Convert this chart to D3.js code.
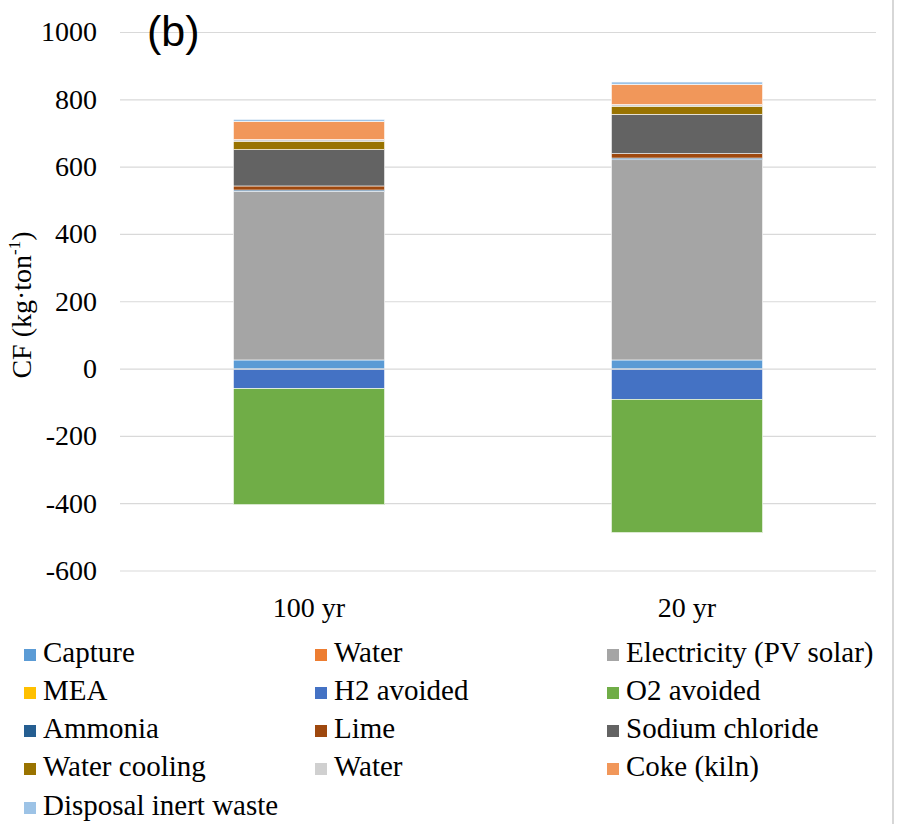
<!DOCTYPE html>
<html>
<head>
<meta charset="utf-8">
<script src="https://cdn.jsdelivr.net/npm/d3@7"></script>
<style>
  html, body { margin: 0; padding: 0; background: #fff; }
  svg { display: block; }
  .serif { font-family: "Liberation Serif", "Times New Roman", serif; }
</style>
</head>
<body>
<svg id="chart" width="898" height="824"></svg>
<script>
// Categories (time horizons) and contributions to the carbon footprint, kg per ton
const categories = ["100 yr", "20 yr"];

const seriesKeys = [
  "capture", "water", "electricity", "mea", "h2", "o2",
  "ammonia", "lime", "nacl", "cooling", "water2", "coke", "disposal"
];
const seriesLabels = [
  "Capture", "Water", "Electricity (PV solar)", "MEA", "H2 avoided", "O2 avoided",
  "Ammonia", "Lime", "Sodium chloride", "Water cooling", "Water", "Coke (kiln)",
  "Disposal inert waste"
];
const seriesColors = [
  "#5b9bd5", "#ed7d31", "#a5a5a5", "#ffc000", "#4472c4", "#70ad47",
  "#255e91", "#9e480e", "#636363", "#997300", "#d0d0d0", "#f1975a", "#9dc3e6"
];

// Values per series, one entry per category
const capture     = [27, 27];
const water       = [0, 0];
const electricity = [501, 595];
const mea         = [0, 0];
const h2Avoided   = [-58, -90];
const o2Avoided   = [-345, -396];
const ammonia     = [4, 5];
const lime        = [12, 13];
const nacl        = [108, 117];
const cooling     = [25, 24];
const water2      = [5, 5];
const coke        = [54, 60];
const disposal    = [6, 7];

const yTicks = [1000, 800, 600, 400, 200, 0, -200, -400, -600];

const seriesValues = [capture, water, electricity, mea, h2Avoided, o2Avoided,
  ammonia, lime, nacl, cooling, water2, coke, disposal];

const rows = categories.map((c, i) => {
  const r = { category: c };
  seriesKeys.forEach((k, j) => { r[k] = seriesValues[j][i]; });
  return r;
});

const svg = d3.select("#chart");

const plot = { left: 120, right: 876, top: 32.5, bottom: 571 };

const x = d3.scaleBand().domain(categories).range([plot.left, plot.right]).padding(0);
const y = d3.scaleLinear().domain([-600, 1000]).range([plot.bottom, plot.top]);
const barWidth = x.bandwidth() * 0.4;

// Horizontal gridlines
svg.append("g")
  .selectAll("line")
  .data(yTicks.filter(d => d !== 0))
  .join("line")
  .attr("x1", plot.left).attr("x2", plot.right)
  .attr("y1", d => y(d)).attr("y2", d => y(d))
  .attr("stroke", "#d9d9d9").attr("stroke-width", 1.2);

// Y axis labels (plain integers with a hyphen minus)
const yAxis = d3.axisLeft(y).tickValues(yTicks).tickSize(0).tickPadding(0)
  .tickFormat(d => String(d));
const yg = svg.append("g").attr("transform", "translate(97,0)").call(yAxis);
yg.attr("font-family", null).attr("font-size", null);
yg.select(".domain").remove();
yg.selectAll("text")
  .attr("class", "serif").style("font-size", "28px").attr("fill", "#000")
  .attr("dy", "0.3em");

// Stacked bars
const stack = d3.stack().keys(seriesKeys).offset(d3.stackOffsetDiverging);
const layers = stack(rows);

svg.append("g")
  .selectAll("g")
  .data(layers)
  .join("g")
  .attr("fill", (d, i) => seriesColors[i])
  .selectAll("rect")
  .data(d => d)
  .join("rect")
  .attr("x", d => x(d.data.category) + (x.bandwidth() - barWidth) / 2)
  .attr("width", barWidth)
  .attr("y", d => y(Math.max(d[0], d[1])))
  .attr("height", d => Math.abs(y(d[0]) - y(d[1])))
  .attr("stroke", "#fff").attr("stroke-width", 0.6);

// Zero line across the bars
svg.append("line")
  .attr("x1", plot.left).attr("x2", plot.right)
  .attr("y1", y(0)).attr("y2", y(0))
  .attr("stroke", "#d9d9d9").attr("stroke-width", 1.2);

// Category labels
const xAxis = d3.axisBottom(x).tickSize(0).tickPadding(0);
const xg = svg.append("g").attr("transform", "translate(0,617)").call(xAxis);
xg.attr("font-family", null).attr("font-size", null);
xg.select(".domain").remove();
xg.selectAll("text")
  .attr("class", "serif").style("font-size", "28px").attr("fill", "#000")
  .attr("dy", 0);

// Y axis title
const title = svg.append("text")
  .attr("class", "serif")
  .attr("transform", "translate(31,305) rotate(-90)")
  .attr("text-anchor", "middle")
  .style("font-size", "28px").attr("fill", "#000");
title.append("tspan").text("CF (kg·ton");
title.append("tspan").style("font-size", "17px").attr("dy", -11).text("-1");
title.append("tspan").attr("dy", 11).text(")");

// Panel tag
svg.append("text")
  .attr("x", 147).attr("y", 46)
  .style("font-family", "'Liberation Sans', Arial, sans-serif")
  .style("font-size", "43px").attr("fill", "#000")
  .text("(b)");

// Legend, three columns
const legendCols = [20, 311, 603];
const legendRows = [662, 700, 738, 776, 815];
const legend = svg.append("g")
  .selectAll("g")
  .data(seriesLabels.map((l, i) => ({ label: l, color: seriesColors[i], i })))
  .join("g")
  .attr("transform", d => `translate(${legendCols[d.i % 3]},${legendRows[Math.floor(d.i / 3)]})`);
legend.append("rect")
  .attr("x", 4).attr("y", -13).attr("width", 12).attr("height", 12)
  .attr("fill", d => d.color);
legend.append("text")
  .attr("class", "serif")
  .attr("x", 23).attr("y", 0)
  .style("font-size", "29px").attr("fill", "#000")
  .text(d => d.label);

// Right frame edge
svg.append("line")
  .attr("x1", 893).attr("x2", 893).attr("y1", 0).attr("y2", 824)
  .attr("stroke", "#bdbdbd").attr("stroke-width", 1.2);
</script>
</body>
</html>
